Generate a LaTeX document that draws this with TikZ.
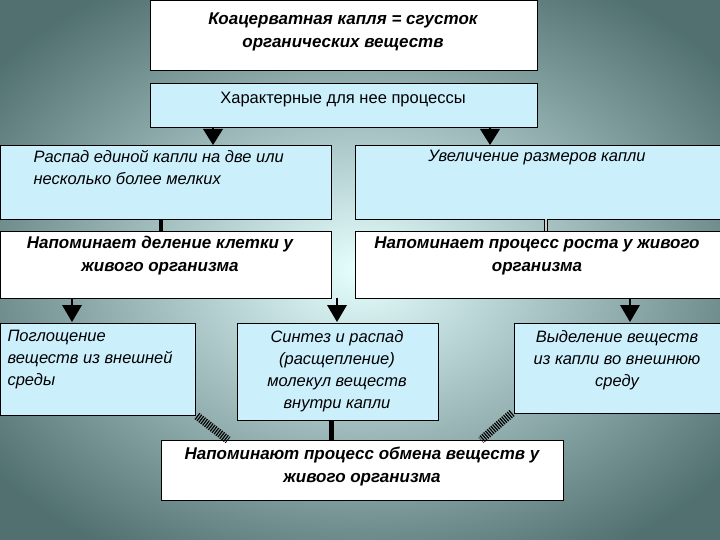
\documentclass[tikz,border=0pt]{standalone}
\usepackage{fontspec}
\setmainfont{Liberation Sans}
\begin{document}
\begin{tikzpicture}[x=1pt,y=-1pt,
 bx/.style={draw=black,line width=0.8pt,anchor=north west,inner sep=0pt},
 cy/.style={fill=cyan!20},
 wh/.style={fill=white},
 tx/.style={align=center,font=\fontsize{16.5}{22}\selectfont\itshape},
 tb/.style={align=center,font=\fontsize{17}{23}\selectfont\bfseries\itshape},
 tri/.style={fill=black},
 hatch/.style={line width=8pt,dash pattern=on 1.2pt off 1.2pt}]
\useasboundingbox (0,0) rectangle (720,540);
\begin{scope}
\clip (0,0) rectangle (720,540);
\fill[gray!50!teal!60!black!80] (0,0) rectangle (720,540);
\shade[inner color=cyan!10!white, outer color=gray!50!teal!60!black!80] (-100,-60) rectangle (820,600);
\end{scope}
% boxes
\node[bx,wh,minimum width=387,minimum height=70] (top) at (150,0) {};
\node[tb] at (343,32) {Коацерватная капля = сгусток\\органических веществ};
\node[bx,cy,minimum width=387,minimum height=44] (proc) at (150,83) {};
\node[tx,font=\fontsize{16.5}{22}\selectfont] at (343,100) {Характерные для нее процессы};
\node[bx,cy,minimum width=331,minimum height=74] (l1) at (0,145) {};
\node[tx,align=left,anchor=north west] at (30,147) {Распад единой капли на две или\\несколько более мелких};
\node[bx,cy,minimum width=365,minimum height=74] (r1) at (355,145) {};
\node[tx,anchor=north] at (537,147) {Увеличение размеров капли};
\node[bx,wh,minimum width=331,minimum height=67] (l2) at (0,231) {};
\node[tb,anchor=north] at (160,233) {Напоминает деление клетки у\\живого организма};
\node[bx,wh,minimum width=365,minimum height=67] (r2) at (355,231) {};
\node[tb,anchor=north] at (537,233) {Напоминает процесс роста у живого\\организма};
\node[bx,cy,minimum width=195,minimum height=92] (a) at (0,323) {};
\node[tx,align=left,anchor=north west] at (4,327) {Поглощение\\веществ из внешней\\среды};
\node[bx,cy,minimum width=201,minimum height=97] (b) at (237,323) {};
\node[tx,anchor=north] at (337,327) {Синтез и распад\\(расщепление)\\молекул веществ\\внутри капли};
\node[bx,cy,minimum width=206,minimum height=90] (c) at (514,323) {};
\node[tx,anchor=north] at (617,327) {Выделение веществ\\из капли во внешнюю\\среду};
\node[bx,wh,minimum width=402,minimum height=60] (bot) at (161,440) {};
\node[tb,anchor=north] at (362,443) {Напоминают процесс обмена веществ у\\живого организма};
% connectors
\draw[line width=1.5pt] (213,127)--(213,130);
\draw[line width=1.5pt] (490,127)--(490,130);
\fill[tri] (203,129)--(223,129)--(213,145)--cycle;
\fill[tri] (480,129)--(500,129)--(490,145)--cycle;
\draw[line width=4pt] (161,219)--(161,231);
\draw[line width=0.8pt,double=gray!40,double distance=1.5pt] (546,219)--(546,231);
\draw[line width=1.5pt] (72,298)--(72,306);
\draw[line width=1.5pt] (337,298)--(337,306);
\draw[line width=1.5pt] (630,298)--(630,306);
\fill[tri] (62,305)--(82,305)--(72,322)--cycle;
\fill[tri] (327,305)--(347,305)--(337,322)--cycle;
\fill[tri] (620,305)--(640,305)--(630,322)--cycle;
\draw[hatch] (197,416)--(228,440);
\draw[line width=5pt] (331,420)--(331,440);
\draw[hatch] (512,413)--(481,440);
\end{tikzpicture}
\end{document}
